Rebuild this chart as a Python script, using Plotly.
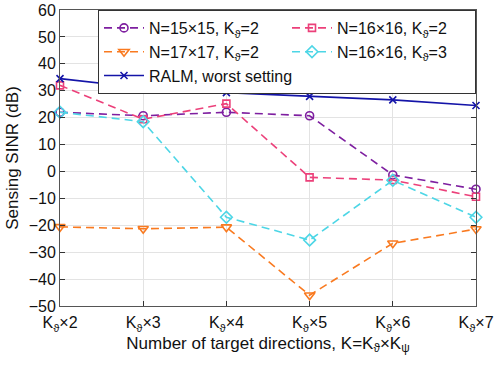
import plotly.graph_objects as go

x_vals = [2, 3, 4, 5, 6, 7]
tick_labels = ["K<sub>ϑ</sub>×2", "K<sub>ϑ</sub>×3", "K<sub>ϑ</sub>×4",
               "K<sub>ϑ</sub>×5", "K<sub>ϑ</sub>×6", "K<sub>ϑ</sub>×7"]

n15_k2 = [22.0, 20.7, 22.0, 20.7, -1.3, -6.6]
n16_k2 = [32.0, 19.4, 25.2, -2.2, -3.2, -9.4]
n17_k2 = [-20.6, -21.3, -20.7, -46.0, -26.7, -21.4]
n16_k3 = [22.0, 18.5, -17.0, -25.5, -3.3, -17.0]
ralm = [34.5, 31.0, 29.3, 27.9, 26.6, 24.5]

names = ["N=15×15, K<sub>ϑ</sub>=2", "N=16×16, K<sub>ϑ</sub>=2",
         "N=17×17, K<sub>ϑ</sub>=2", "N=16×16, K<sub>ϑ</sub>=3",
         "RALM, worst setting"]

series = [
    (n15_k2, names[0], "#7E1FA0", "circle-open", "8px,5px", 8),
    (n16_k2, names[1], "#EC407A", "square-open", "8px,5px", 7),
    (n17_k2, names[2], "#F97A20", "triangle-down-open", "8px,5px", 9),
    (n16_k3, names[3], "#4DD6E6", "diamond-open", "8px,5px", 9),
    (ralm, names[4], "#1414A8", "x-thin-open", "solid", 7),
]

fig = go.Figure()
for ys, nm, col, sym, dash, msz in series:
    fig.add_trace(go.Scatter(
        x=x_vals, y=ys, name=nm, mode="lines+markers",
        line=dict(color=col, width=1.6, dash=dash),
        marker=dict(symbol=sym, size=msz, color=col, line=dict(color=col, width=1.6)),
        cliponaxis=False,
    ))

axis_common = dict(
    showline=True, linecolor="#555555", linewidth=1, mirror="ticks",
    ticks="inside", ticklen=5, tickcolor="#333333",
    showgrid=True, gridcolor="#E3E3E3", gridwidth=1, zeroline=False,
    tickfont=dict(size=16, color="#111111"), automargin=False,
)

fig.update_xaxes(range=[2, 7], tickvals=x_vals, ticktext=tick_labels,
                 ticklabelstandoff=2,
                 title=dict(text="Number of target directions, K=K<sub>ϑ</sub>×K<sub>ψ</sub>",
                            font=dict(size=17, color="#111111"), standoff=3),
                 **axis_common)
fig.update_yaxes(range=[-50, 60], dtick=10,
                 title=dict(text="Sensing SINR (dB)", font=dict(size=17, color="#111111"), standoff=5),
                 **axis_common)

fig.update_layout(
    width=498, height=366,
    margin=dict(l=60, r=22, t=10, b=60),
    paper_bgcolor="white", plot_bgcolor="white",
    font=dict(family="Liberation Sans, Arial, Helvetica, sans-serif", color="#111111"),
    showlegend=True,
    legend=dict(
        orientation="h", x=1, xanchor="right", y=1, yanchor="top",
        bgcolor="white", bordercolor="#333333", borderwidth=1,
        font=dict(size=16, color="#111111"),
        entrywidth=133, entrywidthmode="pixels",
        itemwidth=40, tracegroupgap=0,
    ),
)

fig.write_html("out.html", config={"displayModeBar": False},
               post_script="document.body.style.margin='0';document.body.style.padding='0';")
